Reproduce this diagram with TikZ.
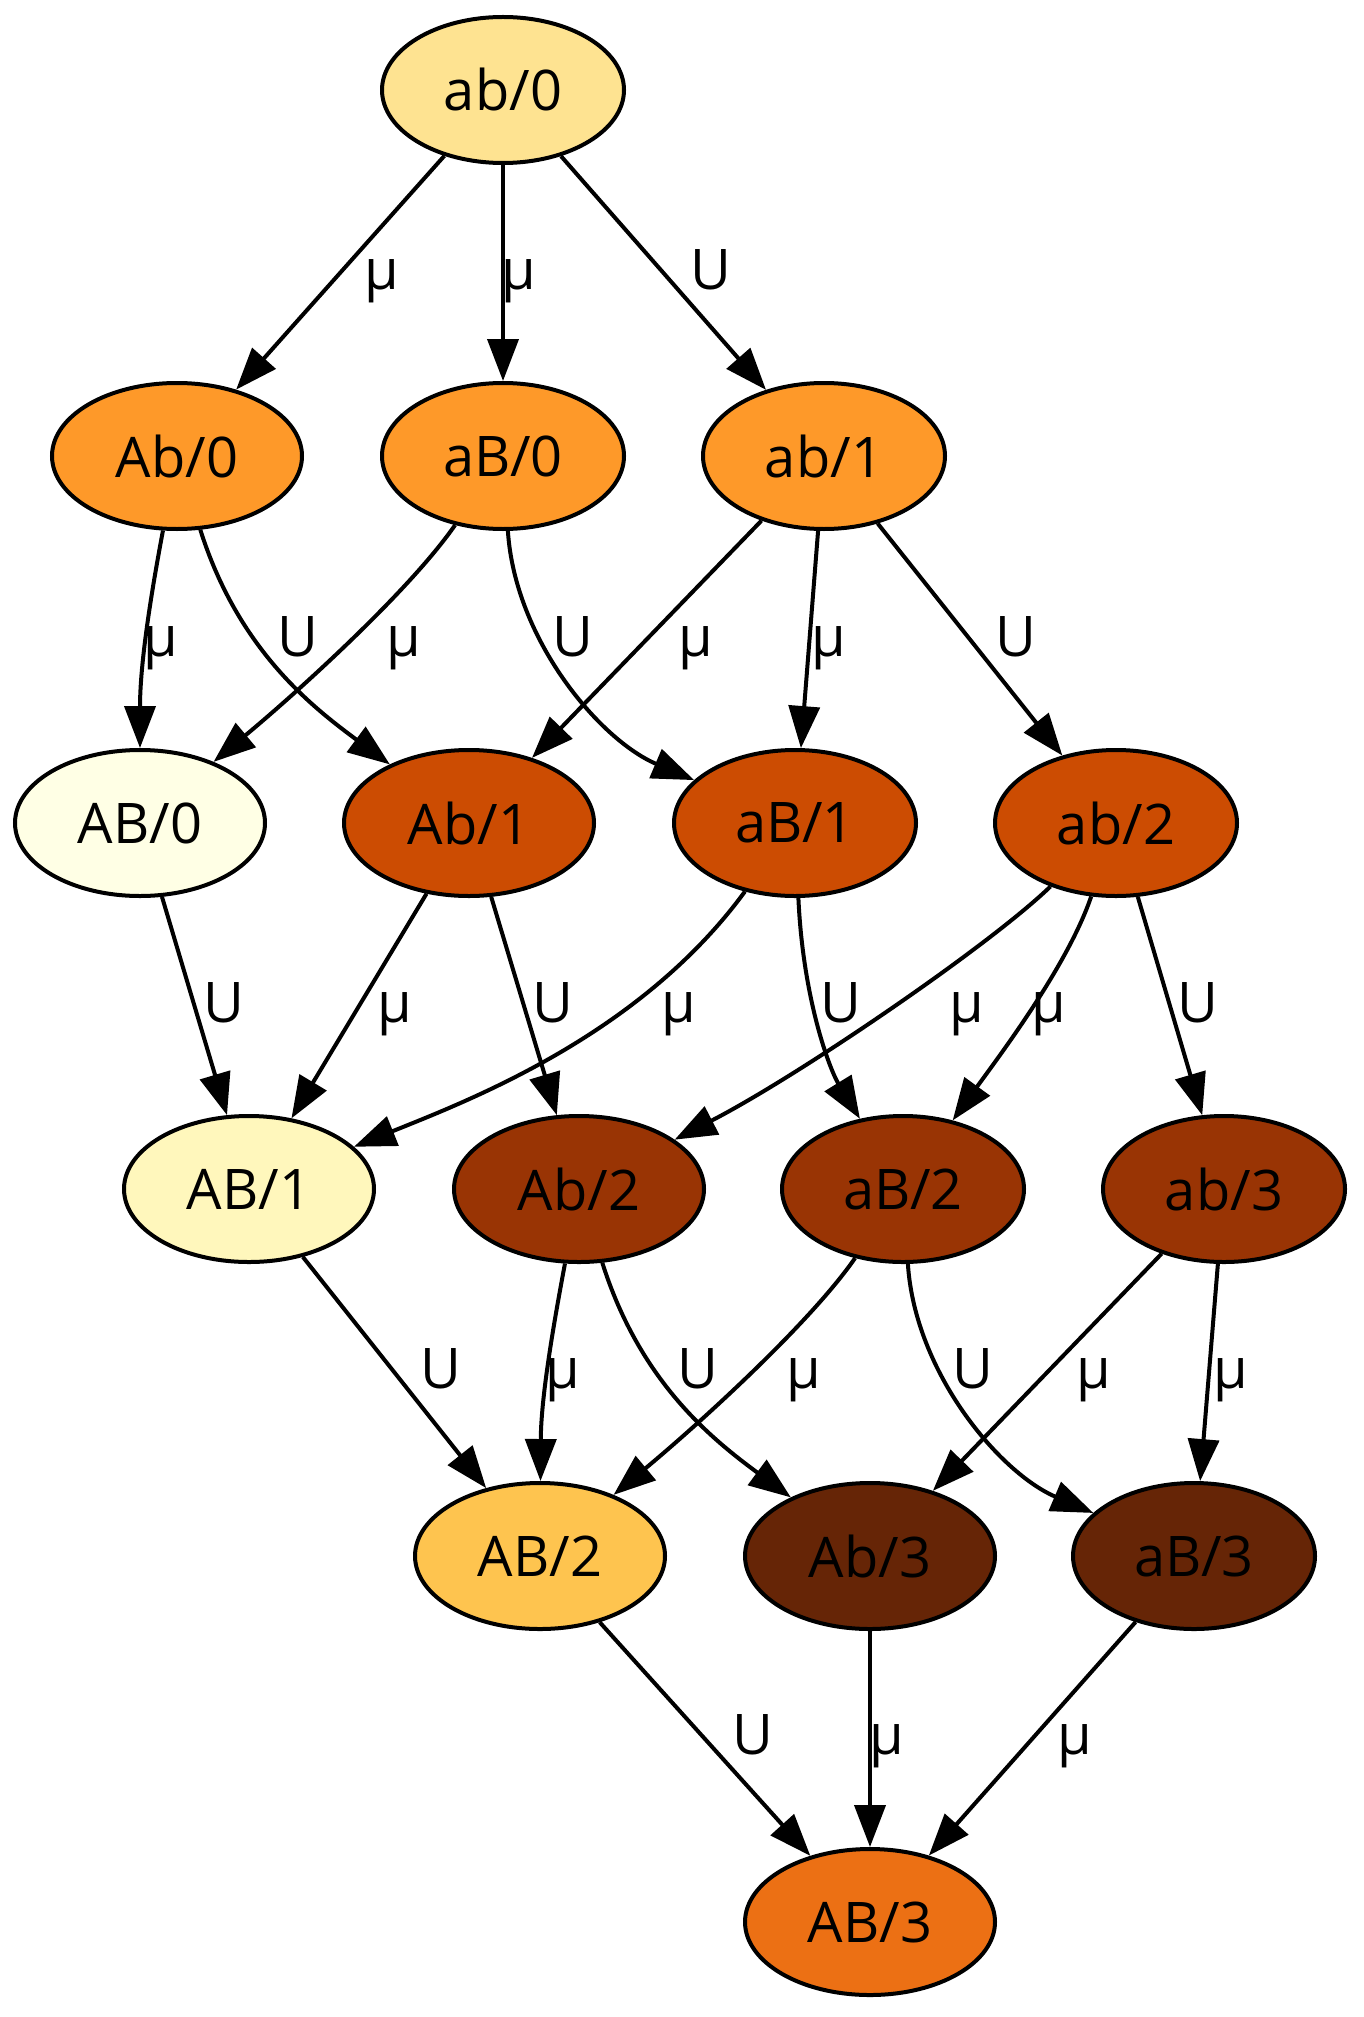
\documentclass[tikz,border=0pt]{standalone}
\usepackage{fontspec}
\setmainfont{Open Sans}
\usetikzlibrary{arrows.meta,shapes.geometric}
\definecolor{c1}{HTML}{FFFFE5}
\definecolor{c2}{HTML}{FFF7BC}
\definecolor{c3}{HTML}{FEE391}
\definecolor{c4}{HTML}{FEC44F}
\definecolor{c5}{HTML}{FE9929}
\definecolor{c6}{HTML}{EC7014}
\definecolor{c7}{HTML}{CC4C02}
\definecolor{c8}{HTML}{993404}
\definecolor{c9}{HTML}{662506}
\tikzset{
  st/.style={ellipse, draw=black, line width=4pt, inner sep=0pt, minimum height=146pt,
    minimum width=242pt, font=\fontsize{56}{64}\selectfont},
  wide/.style={minimum width=250pt},
  edge/.style={line width=4pt, -{Triangle[length=42pt, width=31pt]}},
  lbl/.style={anchor=base, inner sep=0pt, font=\fontsize{56}{64}\selectfont}
}
\begin{document}
\begin{tikzpicture}[x=1pt, y=-1pt]
\useasboundingbox (0,0) rectangle (1363,2017);
% nodes
\node[st, fill=c3] (ab0) at (503,90) {ab/0};
\node[st, wide, fill=c5] (Ab0) at (177,456) {Ab/0};
\node[st, fill=c5] (aB0) at (503,456) {aB/0};
\node[st, fill=c5] (ab1) at (824,456) {ab/1};
\node[st, wide, fill=c1] (AB0) at (140,823) {AB/0};
\node[st, wide, fill=c7] (Ab1) at (469,823) {Ab/1};
\node[st, fill=c7] (aB1) at (795,823) {aB/1};
\node[st, fill=c7] (ab2) at (1116,823) {ab/2};
\node[st, wide, fill=c2] (AB1) at (249,1189) {AB/1};
\node[st, wide, fill=c8] (Ab2) at (579,1189) {Ab/2};
\node[st, fill=c8] (aB2) at (903,1189) {aB/2};
\node[st, fill=c8] (ab3) at (1224,1189) {ab/3};
\node[st, wide, fill=c4] (AB2) at (540,1556) {AB/2};
\node[st, wide, fill=c9] (Ab3) at (870,1556) {Ab/3};
\node[st, fill=c9] (aB3) at (1194,1556) {aB/3};
\node[st, wide, fill=c6] (AB3) at (870,1922) {AB/3};
% edges row 1
\draw[edge] (ab0) -- (Ab0);
\draw[edge] (ab0) -- (aB0);
\draw[edge] (ab0) -- (ab1);
% row 2
\draw[edge] (Ab0) .. controls (148,610) and (140,670) .. (AB0);
\draw[edge] (Ab0) .. controls (238,649) and (311,706) .. (Ab1);
\draw[edge] (aB0) .. controls (410,590) and (300,690) .. (AB0);
\draw[edge] (aB0) .. controls (515,640) and (600,740) .. (aB1);
\draw[edge] (ab1) -- (Ab1);
\draw[edge] (ab1) -- (aB1);
\draw[edge] (ab1) -- (ab2);
% row 3
\draw[edge] (AB0) -- (AB1);
\draw[edge] (Ab1) -- (AB1);
\draw[edge] (Ab1) -- (Ab2);
\draw[edge] (aB1) .. controls (640,1035) and (470,1100) .. (AB1);
\draw[edge] (aB1) .. controls (803,1000) and (830,1070) .. (aB2);
\draw[edge] (ab2) .. controls (990,945) and (800,1075) .. (Ab2);
\draw[edge] (ab2) .. controls (1068,965) and (1000,1055) .. (aB2);
\draw[edge] (ab2) -- (ab3);
% row 4
\draw[edge] (AB1) -- (AB2);
\draw[edge] (Ab2) .. controls (550,1343) and (541,1403) .. (AB2);
\draw[edge] (Ab2) .. controls (640,1382) and (712,1439) .. (Ab3);
\draw[edge] (aB2) .. controls (810,1323) and (700,1423) .. (AB2);
\draw[edge] (aB2) .. controls (915,1373) and (1000,1473) .. (aB3);
\draw[edge] (ab3) -- (Ab3);
\draw[edge] (ab3) -- (aB3);
% row 5
\draw[edge] (AB2) -- (AB3);
\draw[edge] (Ab3) -- (AB3);
\draw[edge] (aB3) -- (AB3);
% labels
\node[lbl] (l1) at (382,290) {μ};
\node[lbl] (l2) at (519,290) {μ};
\node[lbl] (l3) at (711,290) {U};
\node[lbl] (l4) at (161,656) {μ};
\node[lbl] (l5) at (298,656) {U};
\node[lbl] (l6) at (404,656) {μ};
\node[lbl] (l7) at (573,656) {U};
\node[lbl] (l8) at (696,656) {μ};
\node[lbl] (l9) at (829,656) {μ};
\node[lbl] (l10) at (1016,656) {U};
\node[lbl] (l11) at (224,1022) {U};
\node[lbl] (l12) at (395,1022) {μ};
\node[lbl] (l13) at (553,1022) {U};
\node[lbl] (l14) at (679,1022) {μ};
\node[lbl] (l15) at (841,1022) {U};
\node[lbl] (l16) at (967,1022) {μ};
\node[lbl] (l17) at (1049,1022) {μ};
\node[lbl] (l18) at (1198,1022) {U};
\node[lbl] (l19) at (441,1388) {U};
\node[lbl] (l20) at (563,1388) {μ};
\node[lbl] (l21) at (698,1388) {U};
\node[lbl] (l22) at (804,1388) {μ};
\node[lbl] (l23) at (973,1388) {U};
\node[lbl] (l24) at (1094,1388) {μ};
\node[lbl] (l25) at (1231,1388) {μ};
\node[lbl] (l26) at (753,1754) {U};
\node[lbl] (l27) at (887,1754) {μ};
\node[lbl] (l28) at (1075,1754) {μ};
\end{tikzpicture}
\end{document}
